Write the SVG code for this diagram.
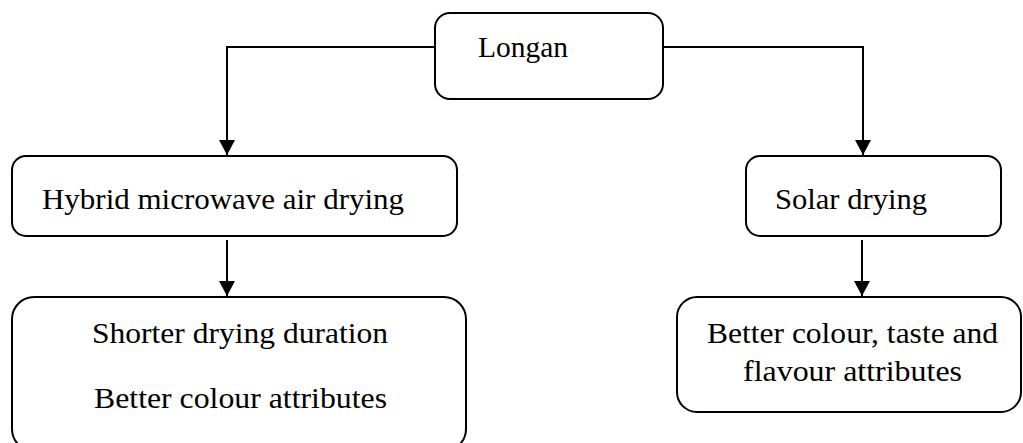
<svg xmlns="http://www.w3.org/2000/svg" width="1023" height="443" viewBox="0 0 1023 443">
  <style>
    .box { fill: #ffffff; stroke: #000000; stroke-width: 2; }
    .link { fill: none; stroke: #000000; stroke-width: 2; }
    .label { font-family: "Liberation Serif", "Times New Roman", serif; font-size: 30px; fill: #000000; }
  </style>
  <defs>
    <marker id="arrow" viewBox="0 0 15 16" refX="15" refY="8" markerWidth="15" markerHeight="16" markerUnits="userSpaceOnUse" orient="auto">
      <path d="M0,0 L15,8 L0,16 Z" fill="#000000"/>
    </marker>
  </defs>
  <rect width="1023" height="443" fill="#ffffff"/>

  <g id="connectors">
    <path class="link" d="M435,47 H227 V155" marker-end="url(#arrow)"/>
    <path class="link" d="M663,47 H863 V155" marker-end="url(#arrow)"/>
    <path class="link" d="M227,240 V296" marker-end="url(#arrow)"/>
    <path class="link" d="M862,240 V296" marker-end="url(#arrow)"/>
  </g>

  <g id="longan">
    <rect class="box" x="435" y="13" width="228" height="86" rx="15"/>
    <text class="label" x="478" y="57" textLength="90" lengthAdjust="spacingAndGlyphs">Longan</text>
  </g>

  <g id="hybrid">
    <rect class="box" x="12" y="156" width="445" height="80" rx="14"/>
    <text class="label" x="42" y="209" textLength="362" lengthAdjust="spacingAndGlyphs">Hybrid microwave air drying</text>
  </g>

  <g id="solar">
    <rect class="box" x="746" y="156" width="255" height="80" rx="14"/>
    <text class="label" x="775" y="209" textLength="152" lengthAdjust="spacingAndGlyphs">Solar drying</text>
  </g>

  <g id="hybrid-result">
    <rect class="box" x="12" y="297" width="454" height="154" rx="22"/>
    <text class="label" x="92" y="343" textLength="296" lengthAdjust="spacingAndGlyphs">Shorter drying duration</text>
    <text class="label" x="94" y="408" textLength="293" lengthAdjust="spacingAndGlyphs">Better colour attributes</text>
  </g>

  <g id="solar-result">
    <rect class="box" x="677" y="297" width="344" height="115" rx="20"/>
    <text class="label" x="707" y="343" textLength="291" lengthAdjust="spacingAndGlyphs">Better colour, taste and</text>
    <text class="label" x="743" y="381" textLength="219" lengthAdjust="spacingAndGlyphs">flavour attributes</text>
  </g>
</svg>
